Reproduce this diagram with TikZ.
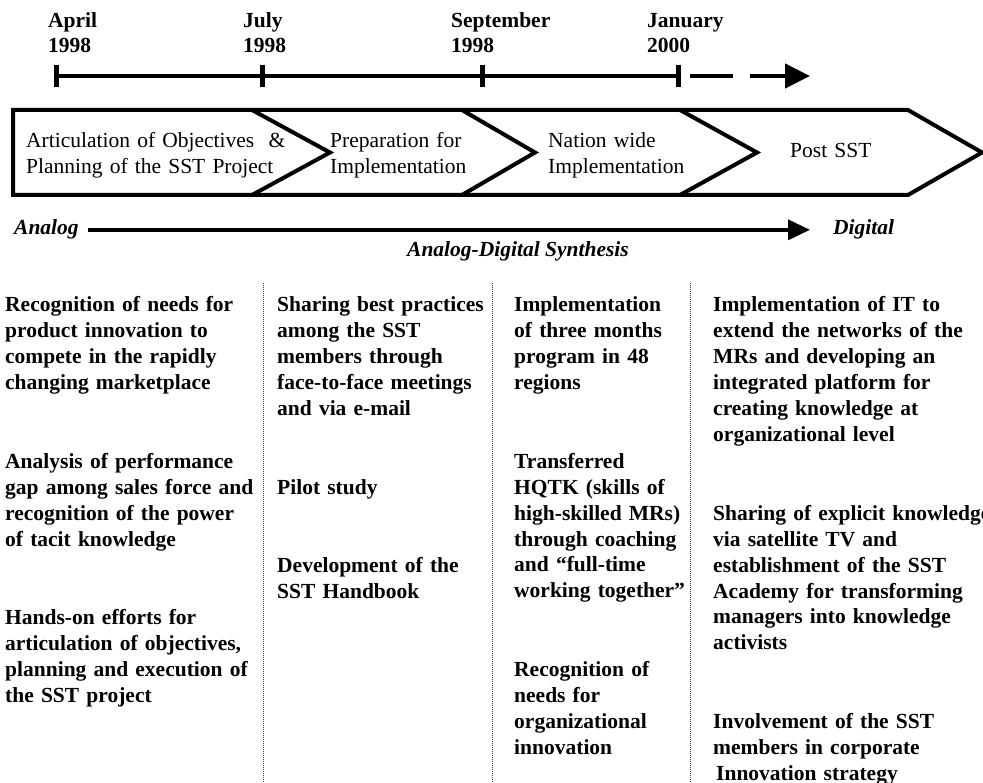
\documentclass[tikz,border=0pt]{standalone}
\usepackage{fontspec}
\setmainfont{Liberation Serif}
\usetikzlibrary{arrows.meta}

\tikzset{
  datelbl/.style={anchor=base west, inner sep=0pt, text width=150pt, align=left, font=\bfseries\fontsize{21.5}{25}\selectfont},
  phase/.style={anchor=base west, inner sep=0pt, text width=300pt, align=left, font=\fontsize{21.5}{26}\selectfont},
  entry/.style={anchor=base west, inner sep=0pt, text width=300pt, align=left, font=\bfseries\fontsize{21.5}{26}\selectfont},
  synth/.style={anchor=base west, inner sep=0pt, font=\bfseries\itshape\fontsize{21.5}{26}\selectfont},
  tick/.style={line width=5pt},
  colsep/.style={densely dotted, line width=1pt, black!75}
}

\begin{document}
\begin{tikzpicture}[x=1pt,y=1pt,yscale=-1,xscale=1]
\useasboundingbox (0,0) rectangle (983,783);

%Dates
\node[datelbl] (april) at (48,28) {April\\1998};
\node[datelbl] (july) at (243,28) {July\\1998};
\node[datelbl] (september) at (451,28) {September\\1998};
\node[datelbl] (january) at (647,28) {January\\2000};

%Time line
\coordinate (t1) at (56,76);
\coordinate (t2) at (262,76);
\coordinate (t3) at (482,76);
\coordinate (t4) at (678,76);
\coordinate (d1) at (690,76);
\coordinate (d2) at (733,76);
\coordinate (d3) at (750,76);
\coordinate (tip) at (810,76);
\draw [line width=4.5pt] (t1) -- (t4);
\foreach \t in {t1,t2,t3,t4}
  \draw [tick] ([yshift=-11pt]\t) -- ([yshift=11pt]\t);
\draw [line width=4.5pt] (d1) -- (d2);
\draw [line width=4.5pt, -{Triangle[length=25pt,width=24pt]}] (d3) -- (tip);

%Shape: Chevrons
\draw [line width=4pt, line join=miter] (13,110) -- (908,110) -- (982,152.5) -- (908,195) -- (13,195) -- cycle;
\draw [line width=4pt, line join=miter] (252,110) -- (330,152.5) -- (252,195);
\draw [line width=4pt, line join=miter] (462,110) -- (535,152.5) -- (462,195);
\draw [line width=4pt, line join=miter] (680,110) -- (757,152.5) -- (680,195);

\node[phase] (planning) at (26,148) {Articulation of Objectives~~\&\\Planning of the SST Project};
\node[phase] (preparation) at (330,148) {Preparation for\\Implementation};
\node[phase] (nationwide) at (548,148) {Nation wide\\Implementation};
\node[phase] (postsst) at (790,158) {Post SST};

%Analog to digital
\node[synth] (analog) at (14,235) {Analog};
\node[synth] (digital) at (833,235) {Digital};
\node[synth] (synthesis) at (407,257) {Analog-Digital Synthesis};
\draw [line width=3.5pt, shorten <=9pt, shorten >=23pt, -{Triangle[length=22pt,width=20pt]}] (analog.east) -- (digital.west);

%Column rules
\foreach \x in {263,492,690}
  \draw [colsep] (\x,283) -- (\x,783);

%Column 1
\node[entry] (recog) at (5,312) {Recognition of needs for\\product innovation to\\compete in the rapidly\\changing marketplace};
\node[entry] (analysis) at (5,468) {Analysis of performance\\gap among sales force and\\recognition of the power\\of tacit knowledge};
\node[entry] (handson) at (5,624) {Hands-on efforts for\\articulation of objectives,\\planning and execution of\\the SST project};

%Column 2
\node[entry] (sharing) at (277,312) {Sharing best practices\\among the SST\\members through\\face-to-face meetings\\and via e-mail};
\node[entry] (pilot) at (277,494) {Pilot study};
\node[entry] (handbook) at (277,572) {Development of the\\SST Handbook};

%Column 3
\node[entry] (program) at (514,312) {Implementation\\of three months\\program in 48\\regions};
\node[entry] (hqtk) at (514,468) {Transferred\\HQTK (skills of\\high-skilled MRs)\\through coaching\\and ``full-time\\working together''};
\node[entry] (orginnov) at (514,676) {Recognition of\\needs for\\organizational\\innovation};

%Column 4
\node[entry] (itnet) at (713,312) {Implementation of IT to\\extend the networks of the\\MRs and developing an\\integrated platform for\\creating knowledge at\\organizational level};
\node[entry] (satellite) at (713,520) {Sharing of explicit knowledge\\via satellite TV and\\establishment of the SST\\Academy for transforming\\managers into knowledge\\activists};
\node[entry] (involve) at (713,728) {Involvement of the SST\\members in corporate\\\hspace*{3pt}Innovation strategy};

\end{tikzpicture}
\end{document}
